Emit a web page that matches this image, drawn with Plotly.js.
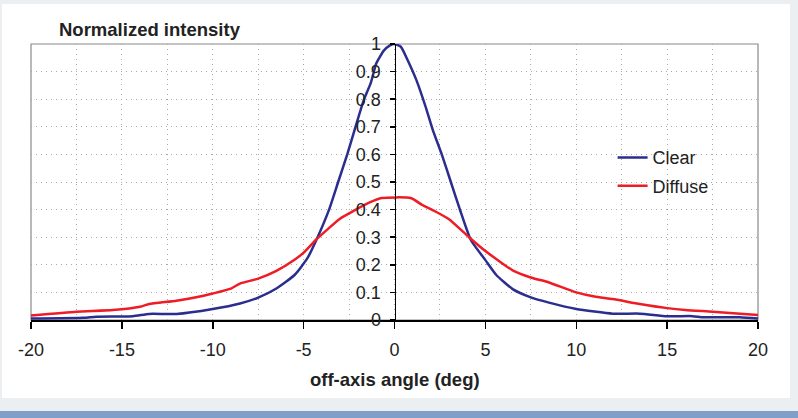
<!DOCTYPE html>
<html>
<head>
<meta charset="utf-8">
<script src="https://cdn.plot.ly/plotly-3.0.1.min.js"></script>
<style>html,body{margin:0;padding:0;background:#eceff2;}#chart{width:798px;height:418px;}</style>
</head>
<body>
<div id="chart"></div>
<script>
// Data
const clearAngle = [-20,-17.1,-16.4,-14.4,-13.5,-12,-10,-8.5,-7.5,-6.5,-5.5,-4.8,-4.3,-3.6,-3.1,-2.6,-2.1,-1.7,-1.3,-1.0,-0.6,-0.25,0,0.35,0.7,1.2,1.7,2.1,2.6,3.1,3.6,4.2,5.0,5.6,6.5,7.5,8.5,10,12,13.5,15,16.4,17,19,20];
const clearValue = [0.005,0.008,0.012,0.014,0.022,0.022,0.04,0.06,0.081,0.114,0.163,0.223,0.29,0.40,0.50,0.60,0.71,0.795,0.86,0.93,0.975,0.995,1.0,0.99,0.945,0.87,0.775,0.69,0.60,0.50,0.40,0.29,0.217,0.163,0.112,0.082,0.063,0.04,0.023,0.023,0.014,0.014,0.01,0.01,0.005];
const diffuseAngle = [-20,-17.5,-15.5,-14,-13.5,-12,-10.5,-10,-9,-8.5,-7.5,-6.5,-5.5,-5,-4.3,-3,-2.2,-1.4,-0.7,0.9,1.5,2.2,3.0,4.1,5,6.5,7.5,8.5,10,11,12,13.5,15,16,17.5,20];
const diffuseValue = [0.016,0.030,0.036,0.048,0.058,0.07,0.088,0.096,0.114,0.132,0.15,0.178,0.218,0.244,0.292,0.367,0.397,0.425,0.442,0.442,0.418,0.395,0.365,0.30,0.25,0.18,0.154,0.136,0.10,0.085,0.076,0.058,0.043,0.036,0.030,0.018];
const seriesNames = ['Clear','Diffuse'];
const xTickVals = [-20,-15,-10,-5,0,5,10,15,20];
const yTickVals = [0,0.1,0.2,0.3,0.4,0.5,0.6,0.7,0.8,0.9,1];

const FONT = 'Liberation Sans, Arial, sans-serif';
const gridDash = '1px,4px';

const traces = [
  {x: clearAngle, y: clearValue, name: seriesNames[0], type: 'scatter', mode: 'lines',
   line: {color: '#2b2d8f', width: 2.5, shape: 'spline', smoothing: 0.5}, legendgroup: 'a'},
  {x: diffuseAngle, y: diffuseValue, name: seriesNames[1], type: 'scatter', mode: 'lines',
   line: {color: '#ee1c25', width: 2.5, shape: 'spline', smoothing: 0.5}, legendgroup: 'b'}
];

const layout = {
  width: 798, height: 418,
  margin: {l: 31, r: 40, t: 44, b: 98, pad: 0},
  paper_bgcolor: '#eceff2',
  plot_bgcolor: 'rgba(0,0,0,0)',
  font: {family: FONT, size: 18, color: '#222'},
  showlegend: true,
  legend: {x: 0.8, y: 0.655, xanchor: 'left', yanchor: 'top', bgcolor: 'rgba(0,0,0,0)',
           font: {family: FONT, size: 18, color: '#222'}, traceorder: 'grouped', tracegroupgap: 2},
  xaxis: {
    range: [-20, 20], tickvals: xTickVals, ticktext: xTickVals.map(String),
    showline: true, linecolor: '#000', linewidth: 1.5,
    ticks: 'outside', ticklen: 7, tickcolor: '#000', tickwidth: 1.5,
    ticklabelstandoff: 6,
    showgrid: true, gridcolor: '#a8a8a8', griddash: gridDash, gridwidth: 1,
    minor: {dtick: 2.5, tick0: 0, showgrid: true, gridcolor: '#a8a8a8', griddash: gridDash, ticks: ''},
    zeroline: false, fixedrange: true,
    tickfont: {family: FONT, size: 18, color: '#222'}
  },
  yaxis: {
    range: [0, 1], tickvals: yTickVals, ticktext: yTickVals.map(v => String(+v.toFixed(1))),
    anchor: 'free', position: 0.5,
    showline: true, linecolor: '#000', linewidth: 1.5,
    ticks: 'outside', ticklen: 5, tickcolor: '#000', tickwidth: 1.5,
    ticklabelstandoff: 5,
    showgrid: true, gridcolor: '#a8a8a8', griddash: gridDash, gridwidth: 1,
    zeroline: false, fixedrange: true,
    tickfont: {family: FONT, size: 18, color: '#222'}
  },
  shapes: [
    {type: 'rect', xref: 'paper', yref: 'paper', x0: -0.0399, x1: 1.044, y0: -0.2826, y1: 1.145,
     fillcolor: '#ffffff', line: {width: 0}, layer: 'below'},
    {type: 'rect', xref: 'paper', yref: 'paper', x0: -0.06, x1: 1.1, y0: -0.36, y1: -0.33,
     fillcolor: '#7f9fc8', line: {width: 0}, layer: 'below'},
    {type: 'rect', xref: 'paper', yref: 'paper', x0: 0, x1: 1, y0: 0, y1: 1,
     fillcolor: 'rgba(0,0,0,0)', line: {color: '#8a8a8a', width: 1.2}, layer: 'below'}
  ],
  annotations: [
    {text: '<b>Normalized intensity</b>', xref: 'paper', yref: 'paper', x: 0.036, y: 1.052,
     xanchor: 'left', yanchor: 'middle', showarrow: false, font: {family: FONT, size: 18.5, color: '#222'}},
    {text: '<b>off-axis angle (deg)</b>', xref: 'paper', yref: 'paper', x: 0.5, y: -0.214,
     xanchor: 'center', yanchor: 'middle', showarrow: false, font: {family: FONT, size: 18.5, color: '#222'}}
  ]
};

Plotly.newPlot('chart', traces, layout, {displayModeBar: false, staticPlot: true});
</script>
</body>
</html>
